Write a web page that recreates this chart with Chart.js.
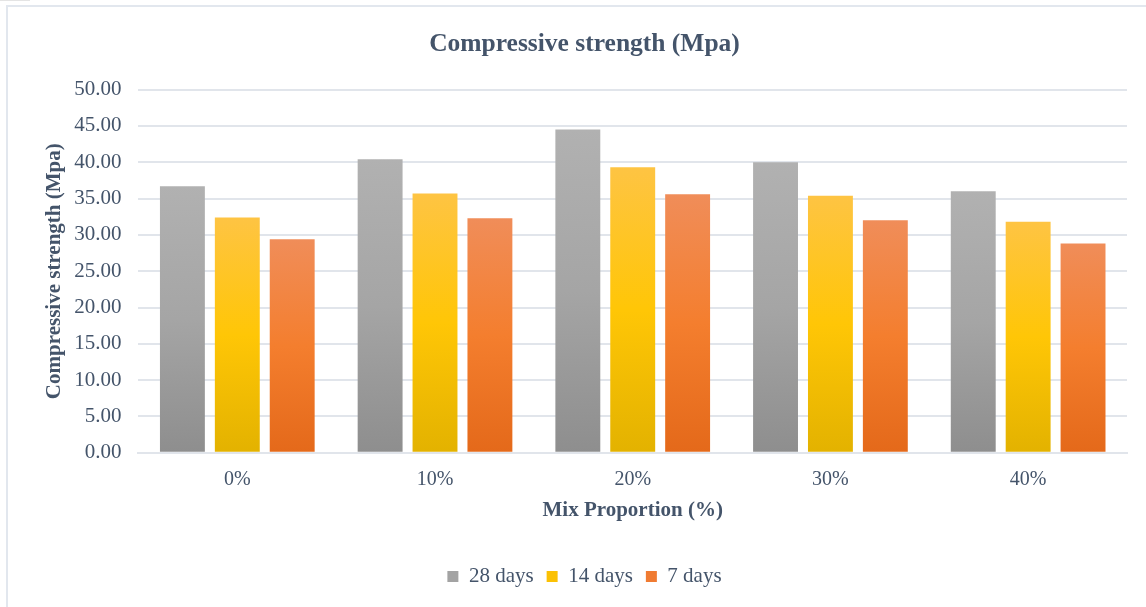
<!DOCTYPE html>
<html>
<head>
<meta charset="utf-8">
<script src="https://cdn.jsdelivr.net/npm/chart.js@4/dist/chart.umd.min.js"></script>
<style>
  html, body { margin: 0; padding: 0; background: #fff; }
  body { width: 1146px; height: 607px; position: relative; overflow: hidden; }
  .frame {
    position: absolute; left: 6px; top: 5px; right: -10px; bottom: -10px;
    border-top: 2px solid #e2e7ee; border-left: 2px solid #e2e7ee;
  }
  .corner { position: absolute; left: 0; top: 0; width: 30px; height: 1px; background: #e4e4e4; }
  .wrap { position: absolute; left: 0; top: 0; width: 1146px; height: 607px; }
</style>
</head>
<body>
<div class="corner"></div>
<div class="frame"></div>
<div class="wrap"><canvas id="strengthChart" width="1146" height="607"></canvas></div>
<script>
// Mix proportions and compressive strength per curing age (MPa)
const mixLabels = ['0%', '10%', '20%', '30%', '40%'];
const days28 = [36.7, 40.4, 44.5, 40.0, 36.0];
const days14 = [32.4, 35.7, 39.3, 35.4, 31.8];
const days7 = [29.4, 32.3, 35.6, 32.0, 28.8];
const yTicks = [0, 5, 10, 15, 20, 25, 30, 35, 40, 45, 50];

const textColor = '#44546a';
const gridColor = '#e1e5eb';

// three-stop vertical fill, light at the top of each bar and darker at its base
function barFill(top, mid, bottom) {
  return function(context) {
    const chart = context.chart;
    const area = chart.chartArea;
    if (!area || context.parsed === undefined) return mid;
    const y = chart.scales.y;
    const yTop = y.getPixelForValue(context.parsed.y);
    const yBase = y.getPixelForValue(0);
    const g = chart.ctx.createLinearGradient(0, yTop, 0, yBase);
    g.addColorStop(0, top);
    g.addColorStop(0.5, mid);
    g.addColorStop(1, bottom);
    return g;
  };
}

// flat swatch colours for the legend
const swatchColors = ['#a3a3a3', '#fbc104', '#f07b32'];

const serif = "'Liberation Serif', 'DejaVu Serif', serif";

const ctx = document.getElementById('strengthChart').getContext('2d');
new Chart(ctx, {
  type: 'bar',
  data: {
    labels: mixLabels,
    datasets: [{
      label: '28 days',
      data: days28,
      backgroundColor: barFill('#b1b1b1', '#a5a5a5', '#8e8e8e')
    }, {
      label: '14 days',
      data: days14,
      backgroundColor: barFill('#fec443', '#ffc606', '#e3b200')
    }, {
      label: '7 days',
      data: days7,
      backgroundColor: barFill('#f08d59', '#f47e2e', '#e4691a')
    }]
  },
  options: {
    responsive: false,
    animation: false,
    devicePixelRatio: 1,
    layout: { padding: { left: 42, right: 19, top: 0, bottom: 10 } },
    datasets: {
      bar: { categoryPercentage: 0.833, barPercentage: 0.818 }
    },
    scales: {
      x: {
        grid: { display: false, drawTicks: false },
        border: { display: true, color: gridColor, width: 2 },
        ticks: { color: textColor, font: { family: serif, size: 20 }, padding: 15 },
        title: {
          display: true,
          text: 'Mix Proportion (%)',
          color: textColor,
          font: { family: serif, size: 21, weight: 'bold' },
          padding: { top: -9, bottom: 30 }
        }
      },
      y: {
        min: 0,
        max: 50,
        afterBuildTicks: function(axis) {
          axis.ticks = yTicks.map(v => ({ value: v }));
        },
        grid: { color: gridColor, lineWidth: 2, drawTicks: false },
        border: { display: false },
        ticks: {
          color: textColor,
          font: { family: serif, size: 21 },
          padding: 17,
          callback: function(value) { return Number(value).toFixed(2); }
        },
        title: {
          display: true,
          text: 'Compressive strength (Mpa)',
          color: textColor,
          font: { family: serif, size: 21, weight: 'bold' },
          padding: { top: 0, bottom: -10 }
        }
      }
    },
    plugins: {
      title: {
        display: true,
        text: 'Compressive strength (Mpa)',
        color: textColor,
        font: { family: serif, size: 25.5, weight: 'bold' },
        padding: { top: 29, bottom: 30 }
      },
      legend: {
        position: 'bottom',
        labels: {
          color: textColor,
          font: { family: serif, size: 21 },
          boxWidth: 11,
          boxHeight: 11,
          padding: 13,
          generateLabels: function(chart) {
            return chart.data.datasets.map((ds, i) => ({
              text: ds.label,
              fillStyle: swatchColors[i],
              strokeStyle: 'rgba(0,0,0,0)',
              lineWidth: 0,
              fontColor: textColor,
              datasetIndex: i
            }));
          }
        }
      },
      tooltip: { enabled: false }
    }
  }
});
</script>
</body>
</html>
